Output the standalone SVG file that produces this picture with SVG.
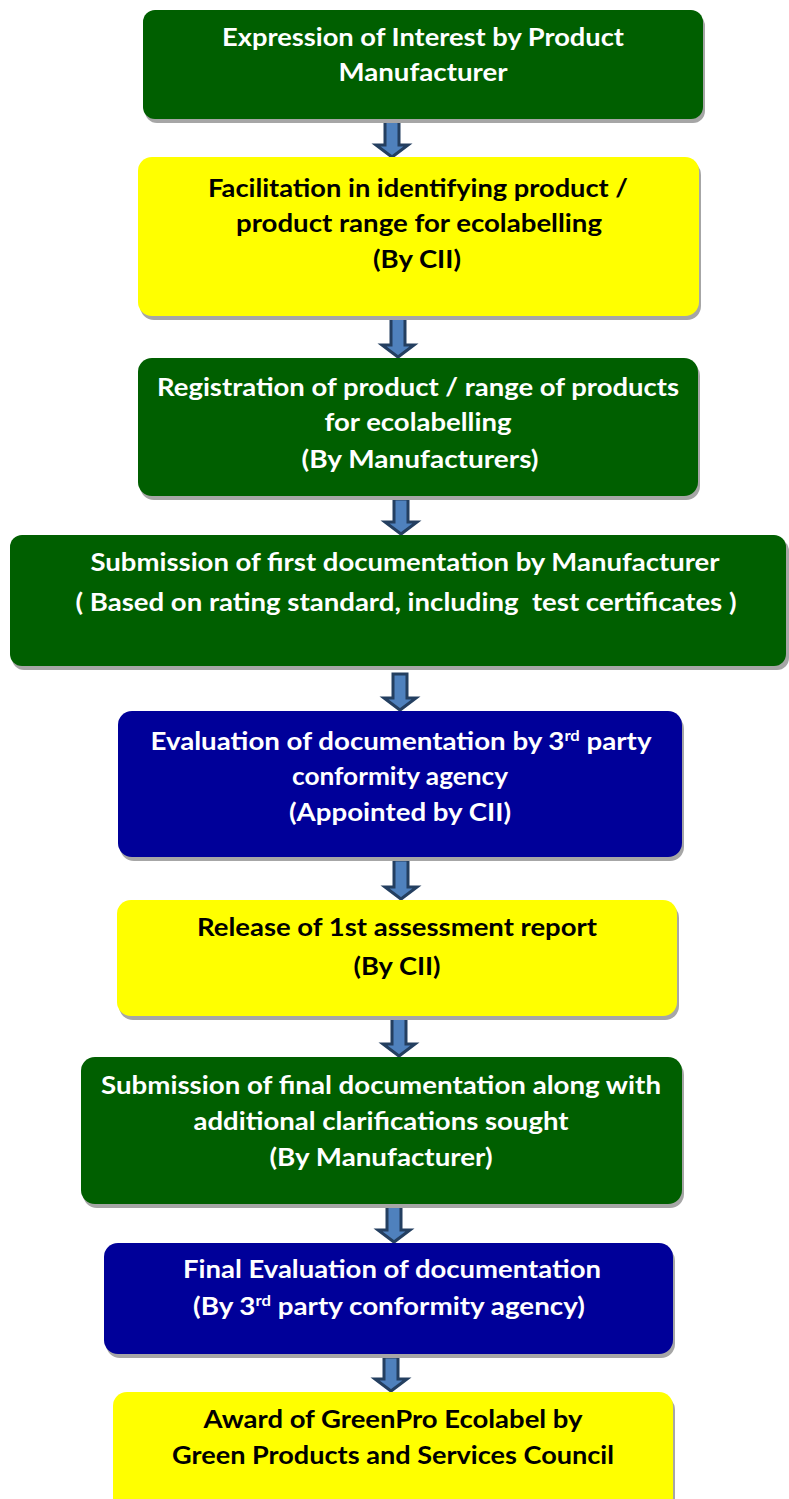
<svg xmlns="http://www.w3.org/2000/svg" width="789" height="1499" viewBox="0 0 789 1499">
<style>
.sh{fill:#A6A6A6}
.g{fill:#005F00}
.y{fill:#FFFF00}
.b{fill:#000099}
text{font-family:Lato,"Open Sans","Liberation Sans",sans-serif;font-weight:bold;font-size:25px;text-anchor:middle}
.w{fill:#FFFFFF}
.k{fill:#000000}
.sup{font-size:15px}
.arr{fill:#4F81BD;stroke:#243F60;stroke-width:3;stroke-linejoin:miter}
</style>
<rect width="789" height="1499" fill="#FFFFFF"/>
<g id="connectors">
<path class="arr" d="M385,121 L399,121 L399,145 L408,145 L392,157 L376,145 L385,145 Z"/>
<path class="arr" d="M391,318 L405,318 L405,345 L414,345 L398,357 L382,345 L391,345 Z"/>
<path class="arr" d="M394,499 L408,499 L408,522 L417,522 L401,534 L385,522 L394,522 Z"/>
<path class="arr" d="M393,674 L407,674 L407,698 L416,698 L400,710 L384,698 L393,698 Z"/>
<path class="arr" d="M394,860 L408,860 L408,887 L417,887 L401,899 L385,887 L394,887 Z"/>
<path class="arr" d="M392,1018 L406,1018 L406,1044 L415,1044 L399,1056 L383,1044 L392,1044 Z"/>
<path class="arr" d="M387,1206 L401,1206 L401,1230 L410,1230 L394,1242 L378,1230 L387,1230 Z"/>
<path class="arr" d="M384,1357 L398,1357 L398,1379 L407,1379 L391,1391 L375,1379 L384,1379 Z"/>
</g>
<g id="n1">
<rect class="sh" x="145" y="14" width="560" height="109" rx="12"/>
<rect class="g" x="143" y="10" width="560" height="109" rx="12"/>
<text class="w" x="423" y="46" textLength="402" lengthAdjust="spacingAndGlyphs">Expression of Interest by Product</text>
<text class="w" x="423" y="81" textLength="169" lengthAdjust="spacingAndGlyphs">Manufacturer</text>
</g>
<g id="n2">
<rect class="sh" x="140" y="161" width="561" height="159" rx="14"/>
<rect class="y" x="138" y="157" width="561" height="159" rx="14"/>
<text class="k" x="418" y="197" textLength="420" lengthAdjust="spacingAndGlyphs">Facilitation in identifying product /</text>
<text class="k" x="419" y="232" textLength="366" lengthAdjust="spacingAndGlyphs">product range for ecolabelling</text>
<text class="k" x="417" y="268" textLength="88" lengthAdjust="spacingAndGlyphs">(By CII)</text>
</g>
<g id="n3">
<rect class="sh" x="140" y="362" width="560" height="138" rx="14"/>
<rect class="g" x="138" y="358" width="560" height="138" rx="14"/>
<text class="w" x="418" y="396" textLength="522" lengthAdjust="spacingAndGlyphs">Registration of product / range of products</text>
<text class="w" x="418" y="431" textLength="187" lengthAdjust="spacingAndGlyphs">for ecolabelling</text>
<text class="w" x="420" y="468" textLength="237" lengthAdjust="spacingAndGlyphs">(By Manufacturers)</text>
</g>
<g id="n4">
<rect class="sh" x="12" y="539" width="777" height="131" rx="12"/>
<rect class="g" x="10" y="535" width="776" height="131" rx="12"/>
<text class="w" x="405" y="571" textLength="629" lengthAdjust="spacingAndGlyphs">Submission of first documentation by Manufacturer</text>
<text class="w" x="406" y="611" textLength="661" lengthAdjust="spacingAndGlyphs" xml:space="preserve">( Based on rating standard, including  test certificates )</text>
</g>
<g id="n5">
<rect class="sh" x="120" y="715" width="564" height="146" rx="14"/>
<rect class="b" x="118" y="711" width="564" height="146" rx="14"/>
<text class="w" x="401" y="750" textLength="501" lengthAdjust="spacingAndGlyphs">Evaluation of documentation by 3<tspan class="sup" dy="-9">rd</tspan><tspan dy="9"> party</tspan></text>
<text class="w" x="400" y="785" textLength="216" lengthAdjust="spacingAndGlyphs">conformity agency</text>
<text class="w" x="400" y="821" textLength="222" lengthAdjust="spacingAndGlyphs">(Appointed by CII)</text>
</g>
<g id="n6">
<rect class="sh" x="119" y="904" width="560" height="116" rx="14"/>
<rect class="y" x="117" y="900" width="560" height="116" rx="14"/>
<text class="k" x="397" y="936" textLength="400" lengthAdjust="spacingAndGlyphs">Release of 1st assessment report</text>
<text class="k" x="397" y="975" textLength="87" lengthAdjust="spacingAndGlyphs">(By CII)</text>
</g>
<g id="n7">
<rect class="sh" x="83" y="1061" width="601" height="147" rx="14"/>
<rect class="g" x="81" y="1057" width="601" height="147" rx="14"/>
<text class="w" x="381" y="1094" textLength="560" lengthAdjust="spacingAndGlyphs">Submission of final documentation along with</text>
<text class="w" x="381" y="1130" textLength="375" lengthAdjust="spacingAndGlyphs">additional clarifications sought</text>
<text class="w" x="381" y="1166" textLength="223" lengthAdjust="spacingAndGlyphs">(By Manufacturer)</text>
</g>
<g id="n8">
<rect class="sh" x="106" y="1247" width="569" height="111" rx="14"/>
<rect class="b" x="104" y="1243" width="569" height="111" rx="14"/>
<text class="w" x="392" y="1278" textLength="418" lengthAdjust="spacingAndGlyphs">Final Evaluation of documentation</text>
<text class="w" x="389" y="1315" textLength="392" lengthAdjust="spacingAndGlyphs">(By 3<tspan class="sup" dy="-9">rd</tspan><tspan dy="9"> party conformity agency)</tspan></text>
</g>
<g id="n9">
<rect class="sh" x="115" y="1396" width="560" height="130" rx="14"/>
<rect class="y" x="113" y="1392" width="560" height="130" rx="14"/>
<text class="k" x="393" y="1428" textLength="379" lengthAdjust="spacingAndGlyphs">Award of GreenPro Ecolabel by</text>
<text class="k" x="393" y="1464" textLength="442" lengthAdjust="spacingAndGlyphs">Green Products and Services Council</text>
</g>
</svg>
